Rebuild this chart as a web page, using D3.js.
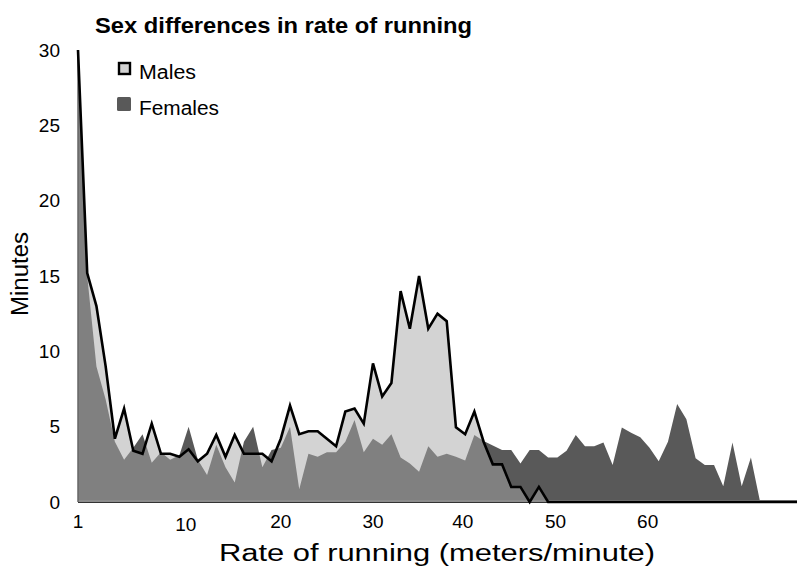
<!DOCTYPE html>
<html>
<head>
  <meta charset="utf-8">
  <title>Sex differences in rate of running</title>
  <script src="https://cdn.jsdelivr.net/npm/d3@7"></script>
  <style>
    body { margin: 0; background: #fff; }
    text { font-family: "Liberation Sans", Arial, sans-serif; fill: #000; }
    .male-line { fill: none; stroke: #000; stroke-width: 2.6; stroke-linejoin: miter; }
  </style>
</head>
<body>
<script>
// Bins along the x axis (one point per bin)
const bins = d3.range(0, 79);

// Minutes spent at each rate
const males = [30, 15.2, 13.0, 9.0, 4.2, 6.2, 3.4, 3.2, 5.2, 3.2,
  3.2, 3.0, 3.5, 2.7, 3.2, 4.45, 3.0, 4.45, 3.2, 3.2,
  3.2, 2.7, 4.2, 6.4, 4.5, 4.7, 4.7, 4.2, 3.7, 6.0,
  6.2, 5.2, 9.2, 7.0, 7.9, 14.0, 11.5, 15.0, 11.5, 12.5,
  12.0, 4.95, 4.5, 6.0, 4.0, 2.5, 2.5, 1.0, 1.0, 0,
  1.0, 0, 0, 0, 0, 0, 0, 0, 0, 0,
  0, 0, 0, 0, 0, 0, 0, 0, 0, 0,
  0, 0, 0, 0, 0, 0, 0, 0, 0];

const females = [30, 15.0, 9.0, 6.8, 4.0, 2.8, 3.6, 4.5, 2.6, 3.3,
  2.8, 3.1, 5.0, 2.8, 1.8, 3.8, 2.3, 1.3, 4.0, 5.0,
  2.3, 3.45, 3.6, 5.0, 0.85, 3.2, 3.0, 3.3, 3.3, 4.0,
  5.45, 3.3, 4.2, 3.8, 4.5, 2.95, 2.55, 2.0, 3.7, 3.0,
  3.2, 3.0, 2.75, 4.45, 4.05, 3.75, 3.45, 3.45, 2.55, 3.45,
  3.45, 2.95, 2.95, 3.4, 4.45, 3.7, 3.7, 3.95, 2.45, 4.95,
  4.6, 4.3, 3.6, 2.7, 4.0, 6.5, 5.5, 2.9, 2.45, 2.45,
  1.05, 3.95, 1.05, 2.95, 0, 0, 0, 0, 0];

// x tick labels and the bin they sit under
const xTickLabels = ["1", "10", "20", "30", "40", "50", "60"];
const xTickBins = [0, 11.7, 22, 32, 41.75, 51.8, 61.8];
const yTicks = [0, 5, 10, 15, 20, 25, 30];

const w = 798;
const h = 566;
const margin = { top: 50, right: 1, bottom: 64, left: 78 };

const data = bins.map((b, i) => ({ bin: b, m: males[i], f: females[i] }));

const xScale = d3.scaleLinear()
  .domain([0, 78])
  .range([margin.left, w - margin.right]);

const yScale = d3.scaleLinear()
  .domain([0, 30])
  .range([h - margin.bottom, margin.top]);

const svg = d3.select("body")
  .append("svg")
  .attr("width", w)
  .attr("height", h);

const areaM = d3.area()
  .x(d => xScale(d.bin))
  .y0(yScale(0))
  .y1(d => yScale(d.m));

const areaF = d3.area()
  .x(d => xScale(d.bin))
  .y0(yScale(0))
  .y1(d => yScale(d.f));

const lineM = d3.line()
  .x(d => xScale(d.bin))
  .y(d => yScale(d.m));

// clip = male area, used to shade the overlap
svg.append("clipPath")
  .attr("id", "maleClip")
  .append("path")
  .datum(data)
  .attr("d", areaM);

// Females
svg.append("path")
  .datum(data)
  .attr("fill", "#595959")
  .attr("d", areaF);

// Males
svg.append("path")
  .datum(data)
  .attr("fill", "#d3d3d3")
  .attr("d", areaM);

// Overlap
svg.append("path")
  .datum(data)
  .attr("fill", "#808080")
  .attr("clip-path", "url(#maleClip)")
  .attr("d", areaF);

// thin baseline of the female series
svg.append("line")
  .attr("x1", xScale(0)).attr("x2", xScale(78))
  .attr("y1", yScale(0) - 1).attr("y2", yScale(0) - 1)
  .attr("stroke", "#8c8c8c")
  .attr("stroke-width", 2);

// axes lines
svg.append("line")
  .attr("x1", xScale(0)).attr("x2", xScale(0))
  .attr("y1", yScale(30)).attr("y2", yScale(0))
  .attr("stroke", "#666")
  .attr("stroke-width", 1.5);

svg.append("line")
  .attr("x1", xScale(0)).attr("x2", xScale(78))
  .attr("y1", yScale(0) + 0.5).attr("y2", yScale(0) + 0.5)
  .attr("stroke", "#333")
  .attr("stroke-width", 1);

// male line
svg.append("path")
  .datum(data)
  .attr("class", "male-line")
  .attr("d", lineM);

// Y axis
const yAxis = d3.axisLeft(yScale)
  .tickValues(yTicks)
  .tickSize(0)
  .tickPadding(0);

svg.append("g")
  .attr("transform", "translate(" + (margin.left - 18) + ",0)")
  .call(yAxis)
  .call(g => g.select(".domain").remove())
  .selectAll("text")
  .style("font-family", "'Liberation Sans', Arial, sans-serif")
  .style("font-size", "19px")
  .attr("fill", "#000");

// X tick labels
svg.append("g")
  .selectAll("text")
  .data(xTickLabels)
  .enter()
  .append("text")
  .attr("x", (d, i) => xScale(xTickBins[i]))
  .attr("y", (d, i) => i === 1 ? 531 : 528)
  .attr("text-anchor", "middle")
  .style("font-size", "19px")
  .text(d => d);

// Titles
svg.append("text")
  .attr("x", 95)
  .attr("y", 33)
  .attr("textLength", 377)
  .attr("lengthAdjust", "spacingAndGlyphs")
  .style("font-size", "22px")
  .style("font-weight", "bold")
  .text("Sex differences in rate of running");

svg.append("text")
  .attr("transform", "translate(28," + 274 + ") rotate(-90)")
  .attr("text-anchor", "middle")
  .attr("textLength", 84)
  .attr("lengthAdjust", "spacingAndGlyphs")
  .style("font-size", "23px")
  .text("Minutes");

svg.append("text")
  .attr("x", 437)
  .attr("y", 561)
  .attr("text-anchor", "middle")
  .attr("textLength", 436)
  .attr("lengthAdjust", "spacingAndGlyphs")
  .style("font-size", "23px")
  .text("Rate of running (meters/minute)");

// Legend
const legend = svg.append("g");
legend.append("rect")
  .attr("x", 119).attr("y", 63)
  .attr("width", 11).attr("height", 11)
  .attr("fill", "#d3d3d3")
  .attr("stroke", "#000")
  .attr("stroke-width", 2.4);
legend.append("text")
  .attr("x", 139).attr("y", 79)
  .attr("textLength", 57)
  .attr("lengthAdjust", "spacingAndGlyphs")
  .style("font-size", "20px")
  .text("Males");
legend.append("rect")
  .attr("x", 117).attr("y", 97)
  .attr("width", 14).attr("height", 14)
  .attr("rx", 1.5)
  .attr("fill", "#595959");
legend.append("text")
  .attr("x", 139).attr("y", 115)
  .attr("textLength", 80)
  .attr("lengthAdjust", "spacingAndGlyphs")
  .style("font-size", "20px")
  .text("Females");
</script>
</body>
</html>
